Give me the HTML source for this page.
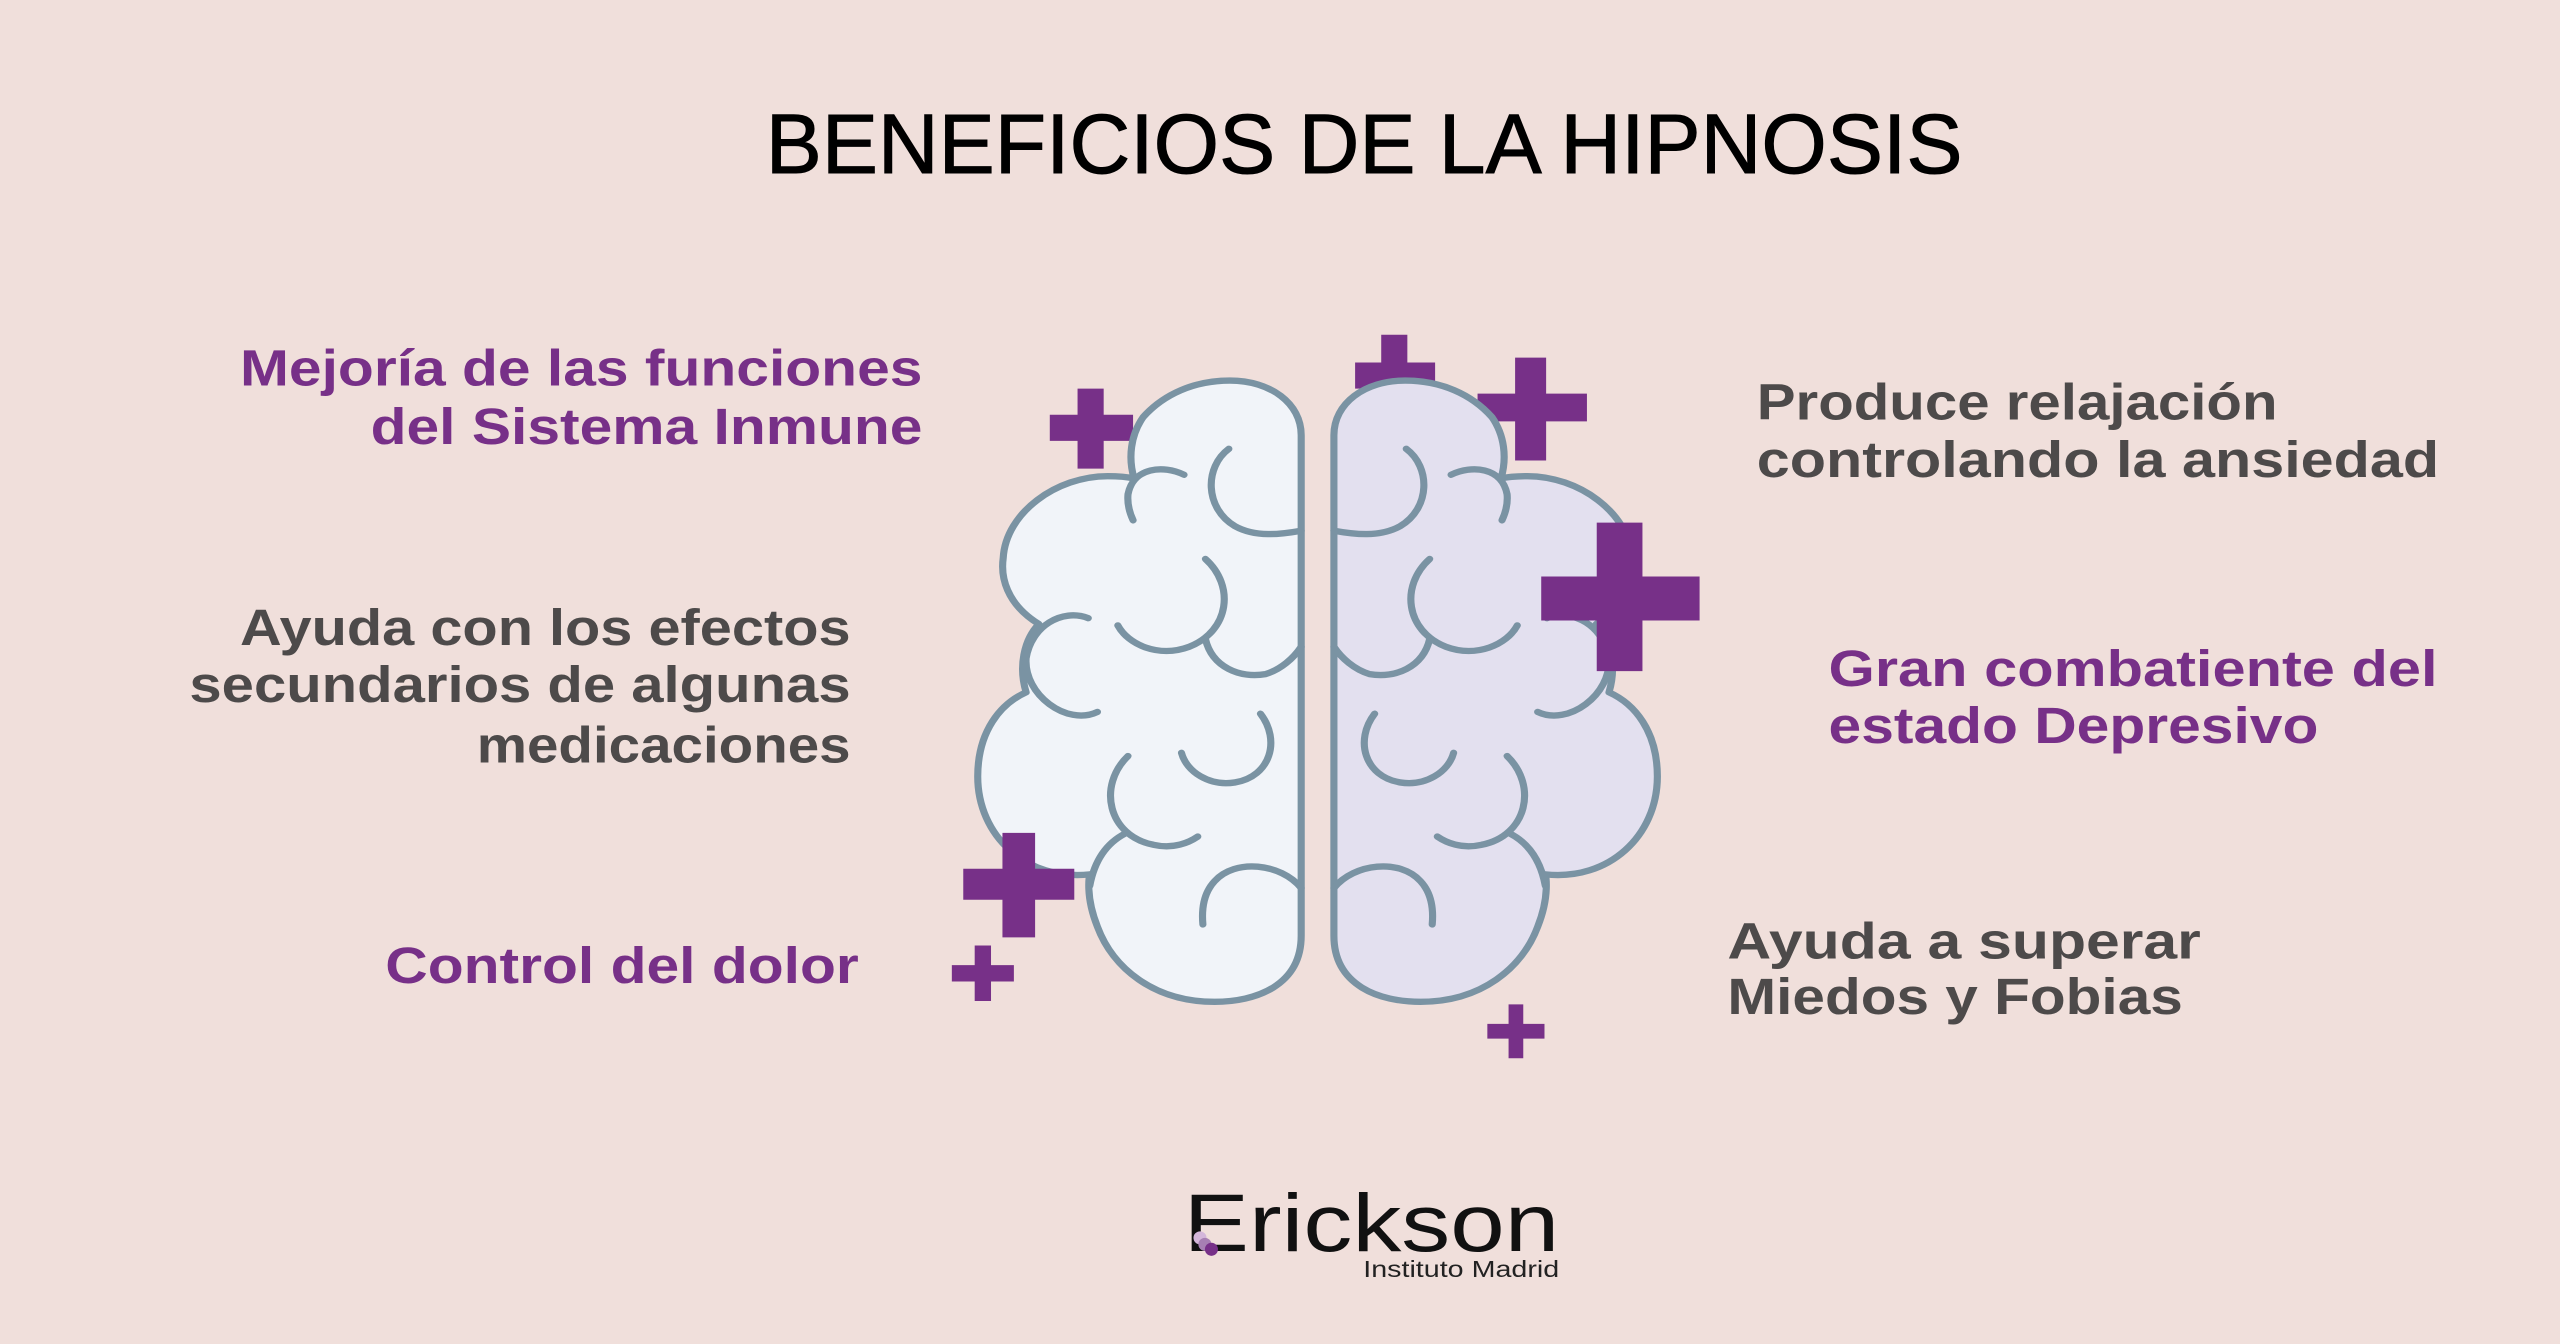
<!DOCTYPE html>
<html><head><meta charset="utf-8"><style>
html,body{margin:0;padding:0;background:#f0dfdb;}
svg{display:block;}
text{font-family:"Liberation Sans",sans-serif;}
.b{font-weight:bold;font-size:31px;}
.p{fill:#773088;}
.g{fill:#4d4a4a;}
</style></head><body>
<svg width="2560" height="1344" viewBox="0 0 1568 823" preserveAspectRatio="none" xmlns="http://www.w3.org/2000/svg">
<rect x="0" y="0" width="1568" height="823" fill="#f0dfdb"/>
<text x="469" y="106" font-size="52" textLength="733" lengthAdjust="spacingAndGlyphs" fill="#000" stroke="#000" stroke-width="0.6">BENEFICIOS DE LA HIPNOSIS</text>

<g class="p">
<path d="M660,238h16v16h18v16h-18v17h-16v-17h-17v-16h17z" />
<path d="M846,205h16v17h17v16h-17v10h-16v-10h-16v-16h16z" />
<path d="M928,219h19v22h25v17h-25v24h-19v-24h-23v-17h23z" />
</g>

<defs>
<g id="hemi">
<path d="M690,250 L690,1350 C690,1460 600,1495 520,1495 C400,1495 320,1420 290,1330 C265,1260 275,1215 275,1215 C150,1230 55,1130 55,1000 C55,900 100,840 150,815 C135,760 145,700 175,665 C110,620 100,560 105,520 C110,420 210,340 310,340 C330,340 350,342 362,345 C350,300 355,250 380,210 C420,160 480,130 550,130 C630,130 690,180 690,250 Z"/>
<g fill="none">
<path d="M460,337 C420,315 360,320 350,380 C348,405 355,425 360,437"/>
<path d="M548,280 C500,320 500,410 560,450 C600,475 650,468 690,460"/>
<path d="M502,522 C560,580 550,680 470,715 C410,740 350,710 330,668"/>
<path d="M502,698 C515,760 570,785 620,775 C650,765 675,740 690,715"/>
<path d="M272,652 C220,630 160,670 150,740 C145,820 230,890 290,858"/>
<path d="M610,862 C650,920 630,1000 560,1013 C510,1022 465,990 455,948"/>
<path d="M350,955 C290,1020 310,1130 400,1150 C440,1160 470,1145 487,1132"/>
<path d="M690,1245 C650,1190 560,1180 520,1230 C495,1260 495,1300 497,1325"/>
<path d="M275,1240 C285,1180 310,1145 345,1125"/>
</g>
</g>
</defs>
<g transform="translate(581.7,196.8) scale(0.312,0.2787)" stroke="#7a93a3" stroke-width="14" stroke-linecap="round" stroke-linejoin="round">
<use href="#hemi" fill="#f1f4f9"/>
</g>
<g transform="translate(1614,0) scale(-1,1) translate(581.7,196.8) scale(0.312,0.2787)" stroke="#7a93a3" stroke-width="14" stroke-linecap="round" stroke-linejoin="round">
<use href="#hemi" fill="#e3e0ef"/>
</g>

<g class="p">
<path d="M978,320h28v33h35v27h-35v31h-28v-31h-34v-27h34z" />
<path d="M614,510h20v22h24v19h-24v23h-20v-23h-24v-19h24z" />
<path d="M597,579h10v12h14v10h-14v12h-10v-12h-14v-10h14z" />
<path d="M924,615h9v12h13v9h-13v12h-9v-12h-13v-9h13z" />
</g>

<text class="b p" x="147" y="236" textLength="418" lengthAdjust="spacingAndGlyphs">Mejoría de las funciones</text>
<text class="b p" x="227" y="272" textLength="338" lengthAdjust="spacingAndGlyphs">del Sistema Inmune</text>
<text class="b g" x="147" y="395" textLength="374" lengthAdjust="spacingAndGlyphs">Ayuda con los efectos</text>
<text class="b g" x="116" y="430" textLength="405" lengthAdjust="spacingAndGlyphs">secundarios de algunas</text>
<text class="b g" x="292" y="467" textLength="229" lengthAdjust="spacingAndGlyphs">medicaciones</text>
<text class="b p" x="236" y="602" textLength="290" lengthAdjust="spacingAndGlyphs">Control del dolor</text>

<text class="b g" x="1076" y="257" textLength="319" lengthAdjust="spacingAndGlyphs">Produce relajación</text>
<text class="b g" x="1076" y="292" textLength="418" lengthAdjust="spacingAndGlyphs">controlando la ansiedad</text>
<text class="b p" x="1120" y="420" textLength="373" lengthAdjust="spacingAndGlyphs">Gran combatiente del</text>
<text class="b p" x="1120" y="455" textLength="300" lengthAdjust="spacingAndGlyphs">estado Depresivo</text>
<text class="b g" x="1058" y="587" textLength="290" lengthAdjust="spacingAndGlyphs">Ayuda a superar</text>
<text class="b g" x="1058" y="621" textLength="279" lengthAdjust="spacingAndGlyphs">Miedos y Fobias</text>

<text x="725" y="766" font-size="50" textLength="230" lengthAdjust="spacingAndGlyphs" fill="#111">Erickson</text>
<circle cx="735" cy="758" r="4" fill="#d4b6da"/>
<circle cx="738" cy="762" r="4" fill="#a77fb3"/>
<circle cx="742" cy="765" r="4" fill="#773088"/>
<text x="835" y="782" font-size="14" textLength="120" lengthAdjust="spacingAndGlyphs" fill="#222">Instituto Madrid</text>
</svg>
</body></html>
